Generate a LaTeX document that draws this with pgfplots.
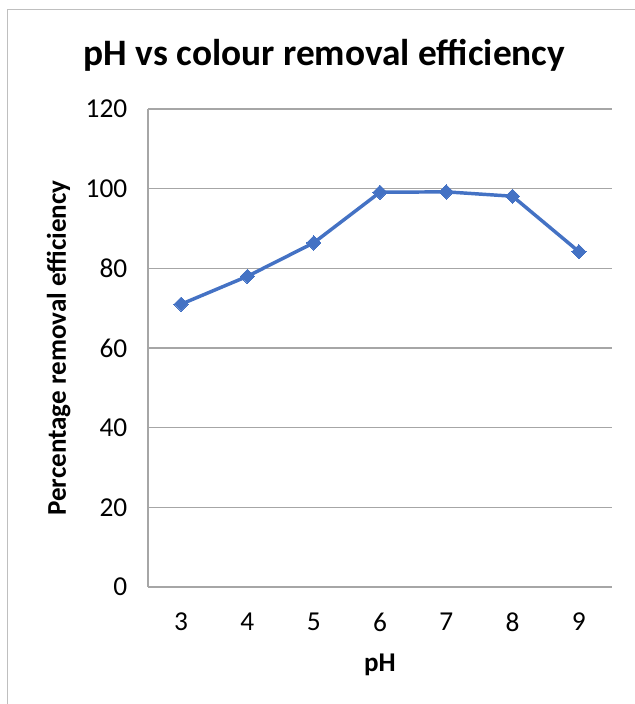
\documentclass[border=0pt]{standalone}
\usepackage{pgfplots}
\pgfplotsset{compat=1.18}
\usepackage{fontspec}
\setmainfont{Carlito}
\definecolor{series}{HTML}{4472C4}
\definecolor{gridc}{HTML}{A6A6A6}
\definecolor{framec}{HTML}{BFBFBF}

\begin{document}
\begin{tikzpicture}
\useasboundingbox (0,0) rectangle (476.25pt,528pt);
% chart frame (left and top edges only are visible)
\draw[framec, line width=1.1pt] (5.6pt,0) -- (5.6pt,520.9pt) -- (476.25pt,520.9pt);
\node[anchor=base, font=\fontsize{28}{32}\selectfont\bfseries] at (243.4pt,479pt) {pH vs colour removal efficiency};
\begin{axis}[
  at={(111pt,87.75pt)}, anchor=south west,
  width=348pt, height=358.5pt, scale only axis,
  xmin=2.5, xmax=9.5, ymin=0, ymax=120,
  xtick={3,4,5,6,7,8,9}, ytick={0,20,40,60,80,100,120},
  ymajorgrids, major grid style={gridc, line width=1.1pt},
  axis x line*=bottom, axis y line*=left,
  axis line style={gridc, line width=1.1pt},
  tick style={draw=none},
  /pgf/number format/assume math mode=true,
  ticklabel style={font=\fontsize{20.5}{24}\selectfont},
  yticklabel style={xshift=-12pt},
  xticklabel style={yshift=-16pt},
  xlabel={pH},
  xlabel style={font=\fontsize{20.3}{24}\selectfont\bfseries, at={(axis description cs:0.5,-0.162)}, anchor=center},
  ylabel={Percentage removal efficiency},
  ylabel style={font=\fontsize{20.3}{24}\selectfont\bfseries, at={(axis description cs:-0.1925,0.5)}, anchor=center},
  clip=false,
]
\addplot[series, line width=2.6pt, mark=square*, mark size=3.8pt,
  mark options={rotate=45, fill=series, draw=series, line width=0pt}]
  coordinates {(3,71.0) (4,78.0) (5,86.4) (6,99.1) (7,99.2) (8,98.1) (9,84.2)};
\end{axis}
\end{tikzpicture}
\end{document}
